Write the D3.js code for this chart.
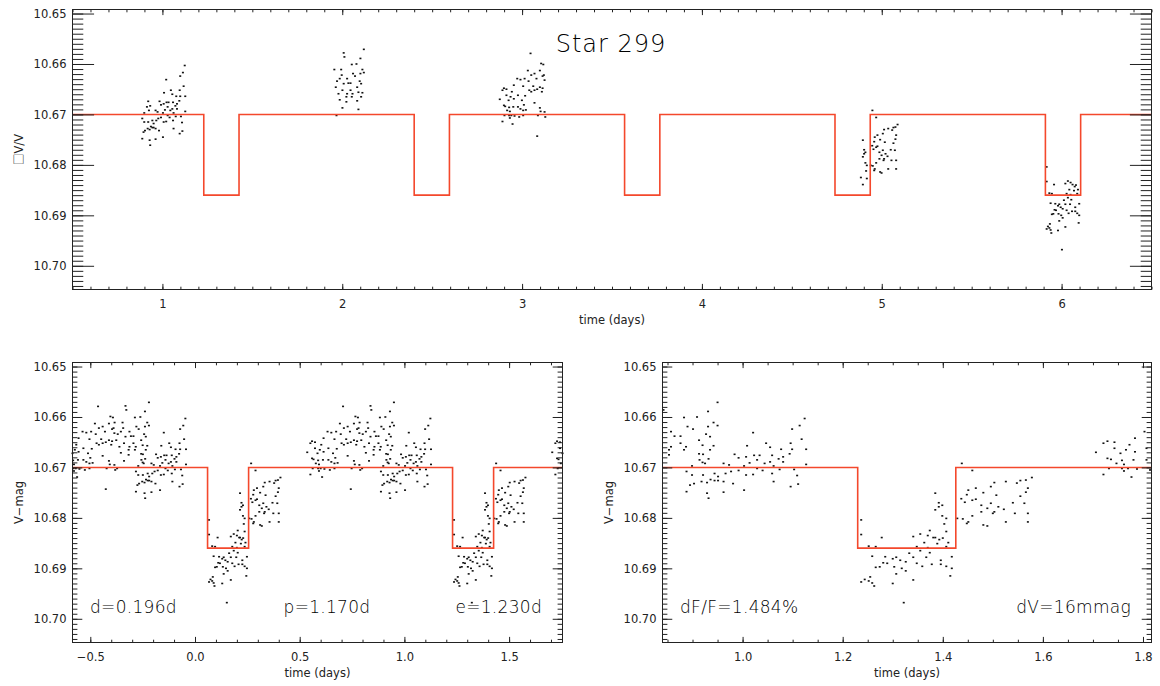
<!DOCTYPE html>
<html>
<head>
<meta charset="utf-8">
<script src="https://cdn.jsdelivr.net/npm/d3@7"></script>
<style>
  body { margin: 0; background: #fff; }
  svg text { font-family: "DejaVu Sans", sans-serif; fill: #222; }
  .axis text { font-size: 11.5px; }
  svg text.note { font-weight: 200; fill: #000; }
</style>
</head>
<body>
<svg id="chart" width="1160" height="686"></svg>
<script>
// transit fit, as printed in the bottom panels
const period = 1.170, epoch = 1.230, duration = 0.196;
const baseMag = 10.670, dipMag = 10.686;

// observations per night: [time (days), V mag]
const night1 = [
  [1.124,10.6603],[1.099,10.6624],[1.114,10.6617],[1.021,10.6631],[1.118,10.6644],[1.047,10.6652],
  [1.055,10.6660],[1.009,10.6657],[1.096,10.6652],[1.077,10.6664],[1.099,10.6664],[1.127,10.6664],
  [1.094,10.6673],[0.921,10.6674],[0.984,10.6674],[1.023,10.6676],[1.034,10.6676],[1.059,10.6676],
  [0.992,10.6681],[1.007,10.6679],[0.932,10.6683],[0.914,10.6685],[1.081,10.6679],[1.072,10.6683],
  [1.055,10.6689],[1.029,10.6685],[1.014,10.6691],[1.044,10.6692],[1.081,10.6689],[1.127,10.6694],
  [0.962,10.6692],[0.925,10.6692],[0.899,10.6697],[0.973,10.6695],[1.003,10.6697],[1.062,10.6697],
  [1.074,10.6704],[1.040,10.6706],[1.059,10.6712],[0.992,10.6706],[0.977,10.6708],[0.966,10.6712],
  [1.007,10.6715],[1.021,10.6714],[0.944,10.6712],[0.921,10.6715],[0.888,10.6708],[0.899,10.6715],
  [1.103,10.6704],[1.109,10.6716],[0.936,10.6724],[0.951,10.6726],[0.962,10.6728],[0.918,10.6728],
  [0.903,10.6732],[0.895,10.6735],[0.929,10.6730],[0.981,10.6732],[1.062,10.6728],[1.111,10.6733],
  [1.096,10.6738],[0.888,10.6748],[0.929,10.6751],[0.962,10.6749],[1.003,10.6745],[0.932,10.6761],
  [0.944,10.6726],[0.951,10.6718],[1.029,10.6702]
];
const night2 = [
  [2.120,10.6571],[2.008,10.6578],[2.101,10.6589],[2.012,10.6586],[2.053,10.6601],[2.079,10.6600],
  [1.956,10.6611],[1.994,10.6611],[2.112,10.6611],[2.120,10.6617],[2.060,10.6619],[1.997,10.6622],
  [2.101,10.6619],[2.071,10.6624],[1.971,10.6634],[1.986,10.6629],[2.027,10.6629],[2.046,10.6638],
  [2.034,10.6638],[2.008,10.6639],[2.097,10.6634],[2.105,10.6639],[2.083,10.6646],[1.964,10.6646],
  [2.001,10.6652],[2.046,10.6652],[2.057,10.6659],[2.090,10.6656],[2.112,10.6657],[1.979,10.6659],
  [2.027,10.6659],[1.986,10.6671],[2.023,10.6665],[2.053,10.6665],[2.083,10.6673],[2.105,10.6665],
  [2.023,10.6675],[2.001,10.6687],[2.090,10.6690],[1.968,10.6702]
];
const night3 = [
  [3.047,10.6579],[3.106,10.6599],[3.118,10.6601],[3.032,10.6613],[3.099,10.6613],[3.069,10.6619],
  [3.051,10.6622],[3.121,10.6622],[2.973,10.6629],[2.991,10.6631],[3.014,10.6629],[3.080,10.6629],
  [3.114,10.6624],[3.125,10.6632],[3.036,10.6634],[2.954,10.6642],[3.006,10.6644],[3.062,10.6644],
  [3.099,10.6646],[3.114,10.6648],[3.084,10.6650],[3.040,10.6652],[2.899,10.6648],[2.891,10.6652],
  [2.913,10.6650],[3.069,10.6652],[2.943,10.6655],[2.977,10.6662],[3.017,10.6663],[3.051,10.6655],
  [3.110,10.6655],[2.876,10.6670],[2.913,10.6662],[2.936,10.6665],[2.954,10.6669],[2.925,10.6672],
  [2.999,10.6672],[3.010,10.6681],[3.069,10.6677],[2.899,10.6682],[2.906,10.6684],[2.928,10.6686],
  [2.951,10.6685],[2.977,10.6685],[2.991,10.6689],[3.006,10.6692],[3.099,10.6687],[2.932,10.6694],
  [2.917,10.6692],[3.021,10.6691],[3.103,10.6694],[3.125,10.6695],[2.902,10.6702],[2.928,10.6702],
  [2.940,10.6702],[2.958,10.6703],[3.006,10.6702],[3.088,10.6702],[2.932,10.6707],[2.984,10.6705],
  [3.129,10.6705],[2.891,10.6714],[2.947,10.6719],[3.084,10.6743]
];
const night4 = [
  [4.948,10.6692],[4.969,10.6706],[5.088,10.6720],[5.065,10.6726],[5.036,10.6728],[5.013,10.6730],
  [5.058,10.6731],[5.076,10.6725],[5.006,10.6738],[4.976,10.6741],[4.961,10.6745],[5.080,10.6741],
  [5.076,10.6749],[4.991,10.6750],[4.895,10.6751],[5.017,10.6755],[4.958,10.6754],[5.065,10.6757],
  [4.947,10.6762],[4.969,10.6765],[4.976,10.6763],[4.954,10.6769],[4.902,10.6770],[4.909,10.6775],
  [5.006,10.6771],[4.987,10.6775],[5.021,10.6778],[5.050,10.6770],[5.073,10.6771],[4.999,10.6781],
  [5.032,10.6783],[4.902,10.6778],[4.895,10.6784],[4.987,10.6788],[5.013,10.6788],[5.010,10.6791],
  [5.054,10.6791],[5.080,10.6791],[4.969,10.6796],[4.909,10.6796],[4.917,10.6801],[4.939,10.6801],
  [4.950,10.6802],[4.961,10.6808],[4.958,10.6811],[5.036,10.6808],[5.080,10.6808],[4.991,10.6814],
  [4.999,10.6816],[4.913,10.6812],[4.884,10.6825],[4.917,10.6827],[4.895,10.6839]
];
const night5 = [
  [5.917,10.6804],[5.917,10.6833],[5.958,10.6839],[6.021,10.6837],[6.035,10.6832],[6.050,10.6835],
  [6.061,10.6839],[6.073,10.6843],[6.080,10.6840],[6.043,10.6849],[6.069,10.6851],[6.091,10.6849],
  [6.087,10.6857],[6.050,10.6859],[6.028,10.6857],[5.932,10.6856],[5.946,10.6857],[6.035,10.6865],
  [6.054,10.6869],[6.013,10.6870],[5.939,10.6876],[5.965,10.6877],[5.987,10.6878],[5.980,10.6881],
  [5.995,10.6884],[6.021,10.6878],[6.047,10.6878],[6.098,10.6877],[6.076,10.6884],[6.006,10.6887],
  [6.028,10.6890],[6.058,10.6892],[5.961,10.6889],[5.969,10.6890],[5.983,10.6897],[5.998,10.6900],
  [6.039,10.6896],[6.076,10.6892],[6.087,10.6896],[6.098,10.6900],[5.946,10.6898],[5.954,10.6897],
  [6.006,10.6905],[5.987,10.6911],[5.935,10.6917],[5.924,10.6922],[5.917,10.6927],[5.939,10.6929],
  [5.932,10.6925],[5.980,10.6930],[6.021,10.6923],[6.095,10.6915],[5.943,10.6935],[6.002,10.6968]
];
const observations = [night1, night2, night3, night4, night5].flat();

const magTicks = [10.65, 10.66, 10.67, 10.68, 10.69, 10.70];
const magDomain = [10.6492, 10.7047];
const timeTicks = [1, 2, 3, 4, 5, 6];
const foldTicks = [-0.5, 0.0, 0.5, 1.0, 1.5];
const zoomTicks = [1.0, 1.2, 1.4, 1.6, 1.8];

const svg = d3.select("#chart");

function steps(lo, hi, step) {
  const out = [];
  for (let i = Math.ceil(lo / step - 1e-6); i * step <= hi + 1e-9; i++) out.push(+(i * step).toFixed(6));
  return out;
}

// box model of the transit over a time window
function transitModel(lo, hi) {
  const pts = [[lo, baseMag]];
  for (let k = -3; k < 10; k++) {
    const s = epoch + k * period, e = s + duration;
    if (e < lo || s > hi) continue;
    pts.push([Math.max(s, lo), baseMag], [Math.max(s, lo), dipMag], [Math.min(e, hi), dipMag], [Math.min(e, hi), baseMag]);
  }
  pts.push([hi, baseMag]);
  return pts;
}

function panel(opt) {
  const g = svg.append("g");
  const x = d3.scaleLinear().domain(opt.xDomain).range([opt.left, opt.right]);
  const y = d3.scaleLinear().domain(magDomain).range([opt.top, opt.bottom]);
  const xLen = 0.02 * (opt.bottom - opt.top);
  const yLen = 0.02 * (opt.right - opt.left);
  const xMinor = steps(opt.xDomain[0], opt.xDomain[1], opt.xMinor);
  const yMinor = steps(magDomain[0], magDomain[1], 0.001);
  const clean = a => a.call(s => s.select(".domain").remove()).attr("color", "#222");

  // points: raw times, or every copy folded on the period that lands in the window
  let pts = observations;
  if (opt.folded) {
    pts = [];
    observations.forEach(([t, m]) => {
      for (let k = -2; k < 8; k++) {
        const u = t - k * period;
        if (u >= opt.xDomain[0] && u <= opt.xDomain[1]) pts.push([u, m]);
      }
    });
  }
  g.append("g").selectAll("rect").data(pts).join("rect")
    .attr("x", d => x(d[0]) - 1).attr("y", d => y(d[1]) - 0.8)
    .attr("width", 2).attr("height", 1.6).attr("fill", "#111");

  g.append("path")
    .datum(transitModel(opt.xDomain[0], opt.xDomain[1]))
    .attr("fill", "none").attr("stroke", "#f4482c").attr("stroke-width", 1.6)
    .attr("d", d3.line().x(d => x(d[0])).y(d => y(d[1])));

  g.append("g").attr("class", "axis").attr("transform", `translate(0,${opt.bottom})`)
    .call(d3.axisBottom(x).tickValues(opt.xTicks).tickSize(-xLen).tickPadding(10).tickFormat(opt.xFormat)).call(clean);
  g.append("g").attr("transform", `translate(0,${opt.bottom})`)
    .call(d3.axisBottom(x).tickValues(xMinor).tickSize(-xLen / 2).tickFormat("")).call(clean);
  g.append("g").attr("transform", `translate(0,${opt.top})`)
    .call(d3.axisTop(x).tickValues(opt.xTicks).tickSize(-xLen).tickFormat("")).call(clean);
  g.append("g").attr("transform", `translate(0,${opt.top})`)
    .call(d3.axisTop(x).tickValues(xMinor).tickSize(-xLen / 2).tickFormat("")).call(clean);

  g.append("g").attr("class", "axis").attr("transform", `translate(${opt.left},0)`)
    .call(d3.axisLeft(y).tickValues(magTicks).tickSize(-yLen).tickPadding(6).tickFormat(d3.format(".2f"))).call(clean);
  g.append("g").attr("transform", `translate(${opt.left},0)`)
    .call(d3.axisLeft(y).tickValues(yMinor).tickSize(-yLen / 2).tickFormat("")).call(clean);
  g.append("g").attr("transform", `translate(${opt.right},0)`)
    .call(d3.axisRight(y).tickValues(magTicks).tickSize(-yLen).tickFormat("")).call(clean);
  g.append("g").attr("transform", `translate(${opt.right},0)`)
    .call(d3.axisRight(y).tickValues(yMinor).tickSize(-yLen / 2).tickFormat("")).call(clean);

  g.append("rect")
    .attr("x", opt.left).attr("y", opt.top)
    .attr("width", opt.right - opt.left).attr("height", opt.bottom - opt.top)
    .attr("fill", "none").attr("stroke", "#222").attr("stroke-width", 1);

  g.append("text").attr("x", (opt.left + opt.right) / 2).attr("y", opt.bottom + 34)
    .attr("text-anchor", "middle").attr("font-size", 11.5).text("time (days)");
  const yl = g.append("text").attr("transform", `translate(${opt.left - 50},${(opt.top + opt.bottom) / 2}) rotate(-90)`)
    .attr("text-anchor", "middle").attr("font-size", 11.5);
  if (opt.yBox) {
    // the delta glyph is missing in the source font and shows as an empty box
    yl.append("tspan").style("font-family", "'Noto Sans CJK SC'").style("fill", "#000").text("\u25A1");
  }
  yl.append("tspan").text(opt.yLabel);

  (opt.notes || []).forEach(n => {
    g.append("text").attr("class", "note").attr("x", n.x).attr("y", n.y).attr("text-anchor", n.anchor)
      .attr("font-size", 17).attr("letter-spacing", 0.3).text(n.text);
  });
  return g;
}

panel({
  left: 72.5, right: 1151.5, top: 9.5, bottom: 289.5,
  xDomain: [0.5, 6.5], xTicks: timeTicks, xMinor: 0.1, xFormat: d3.format("d"),
  yBox: true, yLabel: "V/V"
});
svg.append("text").attr("class", "note").attr("x", 611).attr("y", 52).attr("text-anchor", "middle")
  .attr("font-size", 24).attr("letter-spacing", 1).text("Star 299");

panel({
  left: 72.5, right: 562.5, top: 362.5, bottom: 642.5, folded: true,
  xDomain: [-0.585, 1.755], xTicks: foldTicks, xMinor: 0.1, xFormat: d3.format(".1f"),
  yLabel: "V\u2212mag",
  notes: [
    { x: 90, y: 613, anchor: "start", text: "d=" + duration.toFixed(3) + "d" },
    { x: 327, y: 613, anchor: "middle", text: "p=" + period.toFixed(3) + "d" },
    { x: 542, y: 613, anchor: "end", text: "e=" + epoch.toFixed(3) + "d" }
  ]
});

panel({
  left: 662.5, right: 1151.5, top: 362.5, bottom: 642.5, folded: true,
  xDomain: [0.84, 1.817], xTicks: zoomTicks, xMinor: 0.05, xFormat: d3.format(".1f"),
  yLabel: "V\u2212mag",
  notes: [
    { x: 680, y: 613, anchor: "start", text: "dF/F=1.484%" },
    { x: 1131, y: 613, anchor: "end", text: "dV=16mmag" }
  ]
});
</script>
</body>
</html>
